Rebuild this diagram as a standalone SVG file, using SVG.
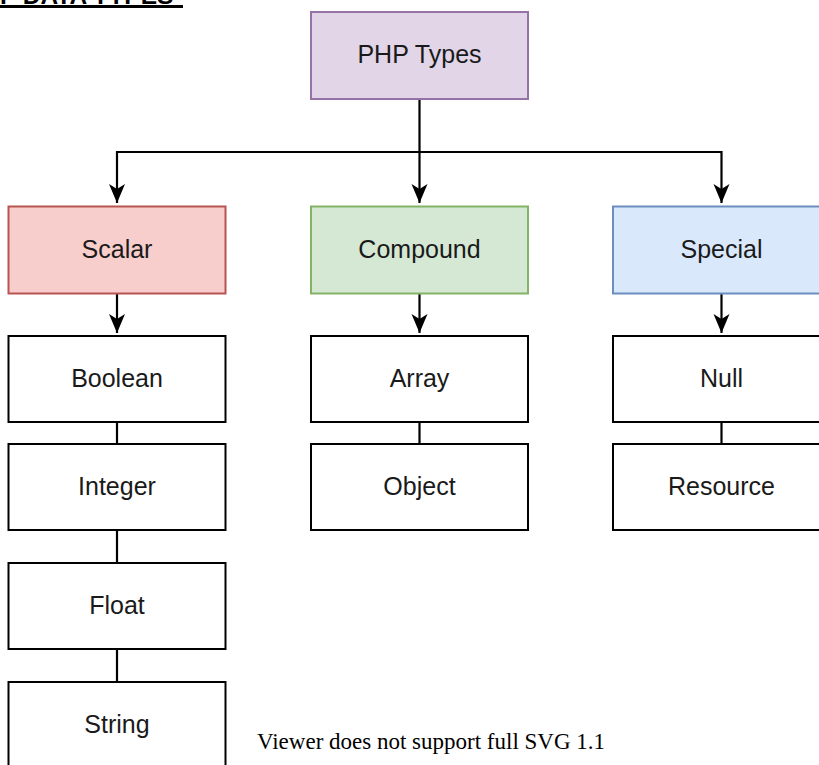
<svg xmlns="http://www.w3.org/2000/svg" width="819" height="765" viewBox="0 0 819 765">
<style>
.box{stroke-width:2}
.plain{fill:#ffffff;stroke:#000000}
.lbl{font-family:"Liberation Sans",Arial,sans-serif;font-size:25px;fill:#1a1a1a;text-anchor:middle}
.edge{fill:none;stroke:#000000;stroke-width:2.2}
.title{font-family:"Liberation Sans",Arial,sans-serif;font-size:24.5px;font-weight:bold;fill:#000000}
.note{font-family:"Liberation Serif","Times New Roman",serif;font-size:23px;fill:#000000}
</style>
<defs>
<marker id="arr" markerUnits="userSpaceOnUse" viewBox="0 0 20 18" markerWidth="20" markerHeight="18" refX="19" refY="9" orient="auto">
<path d="M0,1 L19,9 L0,17 L5,9 Z" fill="#000000"/>
</marker>
</defs>
<rect width="819" height="765" fill="#ffffff"/>
<g id="title">
<text class="title" x="0" y="4">P DATA TYPES</text>
<rect x="0" y="5" width="183" height="3" fill="#000000"/>
</g>
<g id="connectors">
<path class="edge" d="M419.5,99 V152 H117 V203" marker-end="url(#arr)"/>
<path class="edge" d="M419.5,152 V203" marker-end="url(#arr)"/>
<path class="edge" d="M419.5,152 H721.5 V203" marker-end="url(#arr)"/>
<path class="edge" d="M117,293 V333" marker-end="url(#arr)"/>
<path class="edge" d="M419.5,293 V333" marker-end="url(#arr)"/>
<path class="edge" d="M721.5,293 V333" marker-end="url(#arr)"/>
<path class="edge" d="M117,422 V444"/>
<path class="edge" d="M117,530 V563"/>
<path class="edge" d="M117,649 V682"/>
<path class="edge" d="M419.5,422 V444"/>
<path class="edge" d="M721.5,422 V444"/>
</g>
<g id="php-types">
<rect class="box" x="311" y="12" width="217" height="87" fill="#e1d5e7" stroke="#9673a6"/>
<text class="lbl" x="419.5" y="63">PHP Types</text>
</g>
<g id="scalar">
<rect class="box" x="8.5" y="206.5" width="217" height="87" fill="#f8cecc" stroke="#b85450"/>
<text class="lbl" x="117" y="258">Scalar</text>
</g>
<g id="compound">
<rect class="box" x="311" y="206.5" width="217" height="87" fill="#d5e8d4" stroke="#82b366"/>
<text class="lbl" x="419.5" y="258">Compound</text>
</g>
<g id="special">
<rect class="box" x="613" y="206.5" width="217" height="87" fill="#dae8fc" stroke="#6c8ebf"/>
<text class="lbl" x="721.5" y="258">Special</text>
</g>
<g id="boolean">
<rect class="box plain" x="8.5" y="336" width="217" height="86"/>
<text class="lbl" x="117" y="387">Boolean</text>
</g>
<g id="integer">
<rect class="box plain" x="8.5" y="444" width="217" height="86"/>
<text class="lbl" x="117" y="495">Integer</text>
</g>
<g id="float">
<rect class="box plain" x="8.5" y="563" width="217" height="86"/>
<text class="lbl" x="117" y="614">Float</text>
</g>
<g id="string">
<rect class="box plain" x="8.5" y="682" width="217" height="86"/>
<text class="lbl" x="117" y="733">String</text>
</g>
<g id="array">
<rect class="box plain" x="311" y="336" width="217" height="86"/>
<text class="lbl" x="419.5" y="387">Array</text>
</g>
<g id="object">
<rect class="box plain" x="311" y="444" width="217" height="86"/>
<text class="lbl" x="419.5" y="495">Object</text>
</g>
<g id="null">
<rect class="box plain" x="613" y="336" width="217" height="86"/>
<text class="lbl" x="721.5" y="387">Null</text>
</g>
<g id="resource">
<rect class="box plain" x="613" y="444" width="217" height="86"/>
<text class="lbl" x="721.5" y="495">Resource</text>
</g>
<text class="note" x="257" y="749">Viewer does not support full SVG 1.1</text>
</svg>
